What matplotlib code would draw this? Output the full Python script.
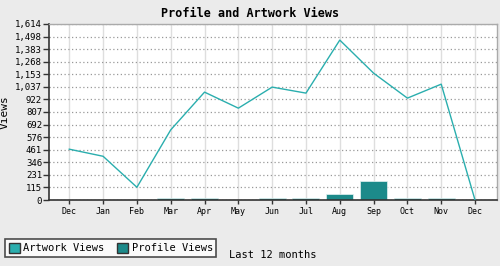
import numpy as np
import matplotlib
matplotlib.use("Agg")
import matplotlib.pyplot as plt
from matplotlib.patches import Patch

# Data
months = ["Dec", "Jan", "Feb", "Mar", "Apr", "May", "Jun", "Jul", "Aug", "Sep", "Oct", "Nov", "Dec"]
artwork_views = [466, 401, 117, 643, 989, 842, 1035, 980, 1466, 1163, 934, 1062, 0]
profile_views = [0, 0, 0, 20, 20, 0, 19, 19, 52, 177, 19, 19, 0]
y_ticks = [0, 115, 231, 346, 461, 576, 692, 807, 922, 1037, 1153, 1268, 1383, 1498, 1614]

line_color = "#2aaeae"
bar_color = "#1c8a8a"
bg_color = "#ebebeb"

plt.rcParams["font.family"] = ["DejaVu Sans Mono"]

fig = plt.figure(figsize=(5, 2.66), dpi=100, facecolor=bg_color)
ax = fig.add_axes([0.098, 0.248, 0.896, 0.662])
ax.set_facecolor("white")

x = np.arange(len(months))

# Profile views as bars, artwork views as a line
ax.bar(x, profile_views, width=0.8, color=bar_color, edgecolor="#e4f2f2", linewidth=0.5, zorder=2)
ax.plot(x, artwork_views, color=line_color, linewidth=1.0, zorder=3)

ax.set_xlim(-0.6, 12.65)
ax.set_ylim(0, 1614)
ax.set_xticks(x)
ax.set_xticklabels(months, fontsize=6)
ax.set_yticks(y_ticks)
ax.set_yticklabels([f"{v:,}" for v in y_ticks], fontsize=6.5)

# Grid
ax.grid(axis="y", linestyle=(0, (1, 2)), color="#999999", linewidth=0.9, zorder=1)
ax.grid(axis="x", linestyle="-", color="#dedede", linewidth=1.0, zorder=0)

for side in ["left", "bottom"]:
    ax.spines[side].set_color("#333333")
    ax.spines[side].set_linewidth(1.2)
for side in ["top", "right"]:
    ax.spines[side].set_color("#aaaaaa")
    ax.spines[side].set_linewidth(1.0)

ax.tick_params(axis="x", length=3, width=1, color="#333333", pad=2)
ax.tick_params(axis="y", length=4, width=1, color="#333333", pad=1)

ax.set_ylabel("Views", fontsize=8, labelpad=4)
fig.suptitle("Profile and Artwork Views", fontsize=8.5, fontweight="bold", x=0.5, y=0.975)

# Legend
handles = [
    Patch(facecolor=line_color, edgecolor="#333333", linewidth=1),
    Patch(facecolor=bar_color, edgecolor="#333333", linewidth=1),
]
leg = fig.legend(handles, ["Artwork Views", "Profile Views"], loc="lower left",
                 bbox_to_anchor=(0.01, 0.035), ncol=2, fontsize=7.5, frameon=True,
                 fancybox=False, handlelength=1.1, handleheight=1.1, handletextpad=0.3,
                 columnspacing=1.2, borderpad=0.35, borderaxespad=0)
leg.get_frame().set_edgecolor("#222222")
leg.get_frame().set_linewidth(1.2)

fig.text(0.458, 0.04, "Last 12 months", fontsize=7.5, ha="left", va="center")

fig.savefig("out.png", dpi=100, facecolor=bg_color)
